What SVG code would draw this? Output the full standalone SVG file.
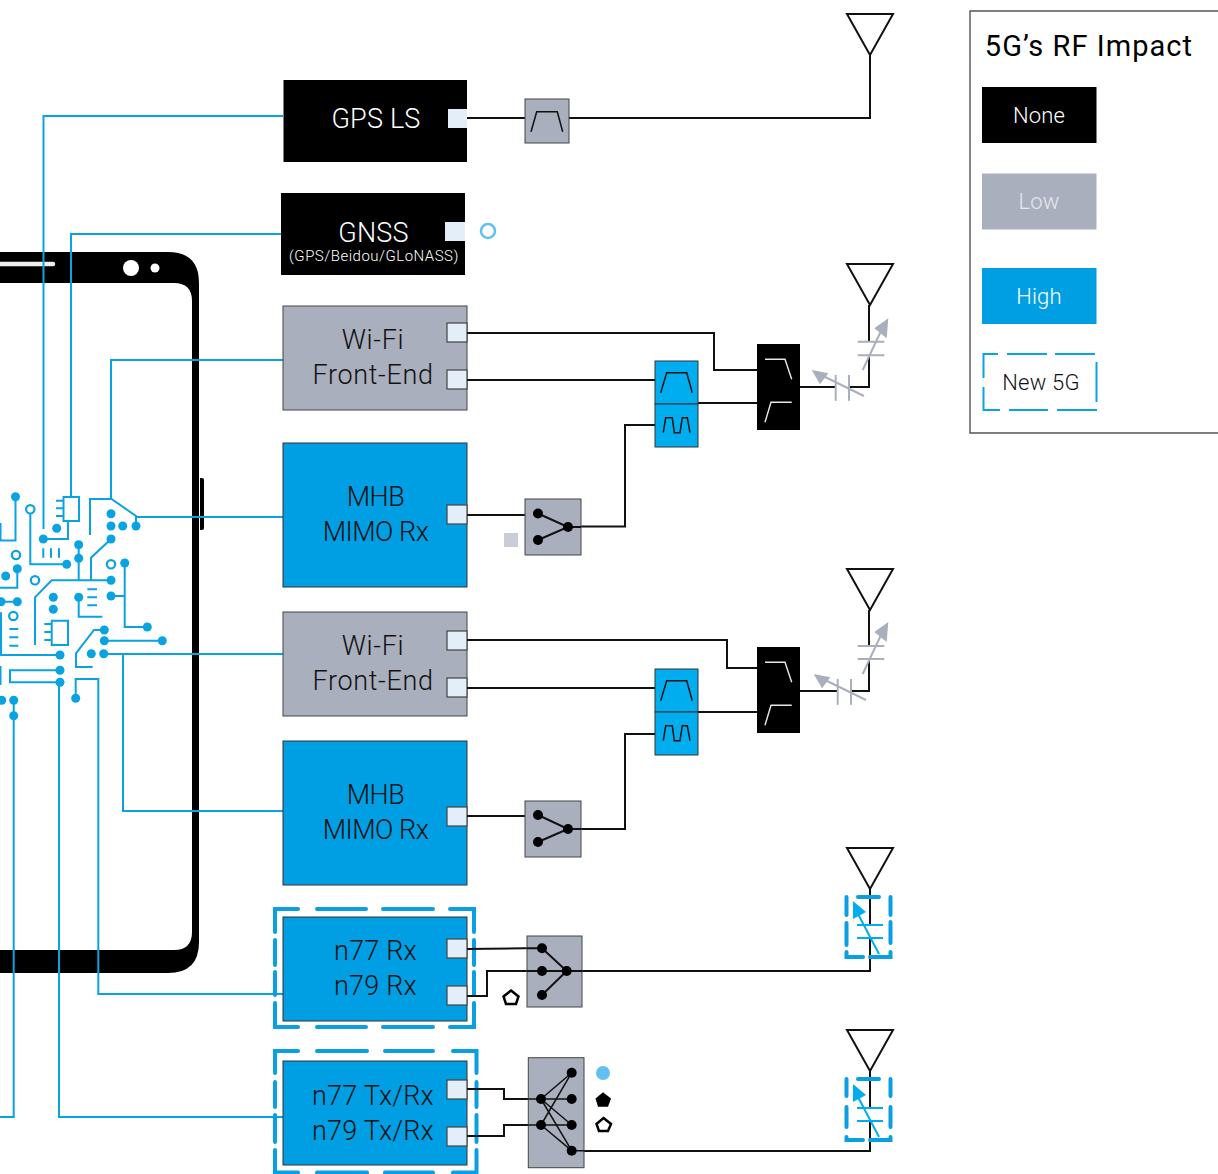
<svg xmlns="http://www.w3.org/2000/svg" width="1218" height="1174" viewBox="0 0 1218 1174">
<style>
text{font-family:Roboto,"Liberation Sans",sans-serif;font-weight:300;text-anchor:middle}
.lbl{font-size:27px;fill:#111}
.a{letter-spacing:-.5px}
.c{letter-spacing:.2px}
.e{letter-spacing:.65px}
.wl{fill:#fff}
.k{fill:none;stroke:#111;stroke-width:2}
.b{fill:none;stroke:#0aa3e2;stroke-width:2}
.d{fill:#0aa3e2}
.r{fill:#fff;stroke:#0aa3e2;stroke-width:2.2}
.dash{fill:none;stroke:#0a9fe3;stroke-width:4;stroke-linecap:round}
.port{fill:#e3eef8;stroke:#444;stroke-width:1.2}
.portb{fill:#e3eef8}
.g{fill:#aaafbe;stroke:#444;stroke-width:1}
.h{fill:#009fe3;stroke:#333;stroke-width:1}
.f{fill:none;stroke:#111;stroke-width:1.5}
.s{fill:none;stroke:#111;stroke-width:2}
.w{fill:none;stroke:#e8e8e8;stroke-width:1.4}
.cg{fill:none;stroke:#aaafbe;stroke-width:2}
.cb{fill:none;stroke:#00aeef;stroke-width:2}
.lg{font-size:22px;letter-spacing:.2px}
</style>
<defs>
<path id="ant" d="M-23 -41H23L0 0Z" fill="none" stroke="#111" stroke-width="2"/>
</defs>
<g id="phone">
<path d="M0 252H168Q199 252 199 283V942Q199 973 168 973H0V950H174Q192 950 192 932V301Q192 283 174 283H0Z"/>
<path d="M0 264H53" stroke="#eee" stroke-width="4.5" stroke-linecap="round"/>
<circle cx="131" cy="268" r="8" fill="#fff"/><circle cx="155" cy="268" r="4.5" fill="#fff"/>
<path d="M200 478h2q2 0 2 2v48q0 2-2 2h-2z"/>
</g>
<g id="connectors">
<g class="b">
<path d="M283 116H43.5V529"/>
<path d="M283 234H71V497"/>
<path d="M283 360H111V499"/>
<path d="M63.5 497H79V521H63.5ZM56 500.7H63.5M56 508.3H63.5M56 516H63.5M68 521V539H43.3"/>
<path d="M90 535V499H111.5L136 516V526M136 517H283"/>
<path d="M283 654H103.7"/>
<path d="M123 654V811H283"/>
<path d="M283 994H98.3V679H75.7V698"/>
<path d="M283 1117H59V682.3"/>
<path d="M0 1117H13.7V700"/>
<path d="M15.5 497V540.5H0.5V523"/>
<path d="M30.3 509V564.3H66.7M43.3 548.3V557.7M51 548.3V557.7M59 548.3V557.7"/>
<path d="M111 539L91 557.7V580.3M78.7 544.7V580.3M111 580.3H51.7L35 597.3V645"/>
<path d="M17.3 568.7V587.7H0M1 601.7H17.3M1 612.3V655H60"/>
<path d="M9.3 629H18.3M9.3 637.3H18.3M9.3 645.7H18.3"/>
<path d="M51.7 620.7H68V645H51.7ZM44.3 624H51.7M44.3 632H51.7M44.3 640H51.7"/>
<path d="M78.7 597.3V616.7H102.3M87.3 589.3H97M87.3 597.3H97M87.3 605.3H97"/>
<path d="M124.7 563V627H147.3M111 596H124.7"/>
<path d="M104.3 630H94L76 653.3V667H92.7M104.3 640.7H162.3"/>
<path d="M60 670.3H10V682.3H60M0.5 666V685"/>
</g>
<g class="d">
<circle cx="15.5" cy="496.7" r="4.5"/><circle cx="56.7" cy="528.3" r="4.5"/><circle cx="43.3" cy="539" r="4.5"/><circle cx="111" cy="513.7" r="4.5"/><circle cx="111" cy="526" r="4.5"/><circle cx="122.7" cy="526" r="4.5"/><circle cx="136" cy="526" r="4.5"/><circle cx="111" cy="539" r="4.5"/>
<circle cx="78.7" cy="544.7" r="4.5"/><circle cx="78.7" cy="558.3" r="4.5"/><circle cx="66.7" cy="564.3" r="4.5"/><circle cx="124.7" cy="563" r="4.5"/><circle cx="111" cy="580.3" r="4.5"/><circle cx="111" cy="596" r="4.5"/><circle cx="147.3" cy="627" r="4.5"/><circle cx="104.3" cy="630" r="4.5"/><circle cx="104.3" cy="640.7" r="4.5"/><circle cx="162.3" cy="640.7" r="4.5"/>
<circle cx="17.3" cy="568.7" r="4.5"/><circle cx="5.7" cy="576" r="4.5"/><circle cx="1" cy="601.7" r="4.5"/><circle cx="17.3" cy="601.7" r="4.5"/>
<circle cx="53.3" cy="597.3" r="4.5"/><circle cx="53.3" cy="609.3" r="4.5"/><circle cx="78.7" cy="597.3" r="4.5"/>
<circle cx="60" cy="655" r="4.5"/><circle cx="60" cy="670.3" r="4.5"/><circle cx="60" cy="682.3" r="4.5"/><circle cx="91.3" cy="653.7" r="4.5"/><circle cx="103.7" cy="653.7" r="4.5"/><circle cx="75.7" cy="698.3" r="4.5"/>
<circle cx="1.7" cy="700.3" r="4.5"/><circle cx="13.7" cy="700.3" r="4.5"/><circle cx="13.7" cy="715.7" r="4.5"/>
</g>
<circle class="r" cx="30.3" cy="509.3" r="4.2"/><circle class="r" cx="16" cy="555" r="4.2"/><circle class="r" cx="35" cy="580.3" r="4.2"/><circle class="r" cx="13.3" cy="616" r="4.2"/><circle class="r" cx="111" cy="564.3" r="4.2"/>
</g>
<g id="gps-ls"><rect x="283.500" y="80" width="183.500" height="82"/><text class="lbl wl c" x="376" y="128">GPS LS</text><rect class="portb" x="448" y="109" width="19" height="19"/></g>
<g id="gnss"><rect x="281" y="193" width="184" height="82"/><text class="lbl wl c" x="373.500" y="242">GNSS</text><text class="wl" x="374" y="261" font-size="15" letter-spacing="0.5">(GPS/Beidou/GLoNASS)</text><rect class="portb" x="445" y="222" width="20" height="19"/></g>
<circle id="gnss-mark" cx="488" cy="231" r="7" fill="none" stroke="#62c0ee" stroke-width="2.5"/>
<g id="wifi1"><rect class="g" x="283" y="306" width="184" height="104"/><text class="lbl e" x="373" y="349">Wi-Fi</text><text class="lbl e" x="373" y="384">Front-End</text><rect class="port" x="447" y="323" width="20" height="19"/><rect class="port" x="447" y="370" width="20" height="19"/></g>
<g id="mhb1"><rect class="h" x="283" y="443" width="184" height="144"/><text class="lbl a" x="375.500" y="506">MHB</text><text class="lbl a" x="375.500" y="541">MIMO Rx</text><rect class="port" x="447" y="505" width="20" height="19"/></g>
<g id="wifi2"><rect class="g" x="283" y="612" width="184" height="104"/><text class="lbl e" x="373" y="655">Wi-Fi</text><text class="lbl e" x="373" y="690">Front-End</text><rect class="port" x="447" y="631" width="20" height="19"/><rect class="port" x="447" y="678" width="20" height="19"/></g>
<g id="mhb2"><rect class="h" x="283" y="741" width="184" height="144"/><text class="lbl a" x="375.500" y="804">MHB</text><text class="lbl a" x="375.500" y="839">MIMO Rx</text><rect class="port" x="447" y="807" width="20" height="19"/></g>
<g id="n77rx"><rect class="h" x="283" y="917" width="184" height="104"/><path class="dash" d="M298 909H275V932M317 909H366M383 909H433M450 909H474V932M275 940V965M474 940V965M275 972V995M474 972V995M275 1003V1027H298M474 1003V1027H450M317 1027H366M383 1027H433"/><text class="lbl c" x="375.500" y="960">n77 Rx</text><text class="lbl c" x="375.500" y="995">n79 Rx</text><rect class="port" x="447" y="939" width="20" height="19"/><rect class="port" x="447" y="986" width="20" height="19"/></g>
<g id="n77tx"><rect class="h" x="283" y="1061" width="184" height="104"/><path class="dash" d="M298 1051H275V1073M317 1051H367M385 1051H433M453 1051H476.500V1073M275 1082V1107M476.500 1082V1107M275 1115V1142M476.500 1115V1142M275 1150V1172.500H298M476.500 1150V1172.500H453M317 1172.500H367M385 1172.500H433"/><text class="lbl c" x="373" y="1105">n77 Tx/Rx</text><text class="lbl c" x="373" y="1140">n79 Tx/Rx</text><rect class="port" x="447" y="1080" width="20" height="19"/><rect class="port" x="447" y="1127" width="20" height="19"/></g>
<g id="wires" class="k">
<path d="M467 118H525M569 118H870V55"/>
<path d="M467 333H714V370H757M467 380H655M698 403H757M800 387H835.500M849 387H869V355.300M869 341.700V305"/>
<path d="M467 515H525M581 526.500H625V425H655"/>
<path d="M467 640H727V668H757M467 688H655M698 712H757M800 691H837.500M851 691H869V659M869 646V610"/>
<path d="M467 816H525M581 829H625V734H655"/>
<path d="M467 949L541 948M467 996H487V971H527M582 971H870V938M870 925V889"/>
<path d="M467 1089H504V1099H540M467 1136H504V1125H540M584 1151H870V1121M870 1108V1071"/>
</g>
<g id="gps-filter"><rect class="g" x="525" y="99" width="44" height="44"/><path class="f" d="M531 131.700L536.700 111.700H557.300L562.700 131.700"/></g>
<g id="switch1"><rect class="g" x="525" y="499" width="56" height="56"/><path class="s" d="M538 513.500L568 527L538 540M568 527H581"/><circle cx="538" cy="513.500" r="5"/><circle cx="538" cy="540" r="5"/><circle cx="568" cy="527" r="5"/></g>
<rect id="mark-square" x="504" y="533" width="14" height="14" fill="#c9cdd8"/>
<g id="filters1"><rect x="655" y="361" width="43" height="43" fill="#00aeef" stroke="#333"/><rect x="655" y="404" width="43" height="43" fill="#00aeef" stroke="#333"/><path class="f" d="M660.700 392.700L666.700 372.700H686.700L692.300 392.700M663.300 432.700L665.700 417.700H672.300L674.300 432.700H680L682.300 417.700H687.300L690 432.700"/></g>
<g id="diplexer1"><rect x="757" y="344" width="43" height="86"/><path class="w" d="M765 359.300H785L791.700 379.300M765 422.300L771 402.300H791.700"/></g>
<g id="ant1"><use href="#ant" x="870" y="305"/><path class="cg" d="M857.700 341.700H884.300M857.700 355.300H884.300M862.700 370L881 331M835.700 375V400.700M849 375V400.700M864 396L823 376"/><path d="M888.300 318.300L874.300 328.300L886.700 338.300ZM811.700 370L828.300 373.300L820 384.300Z" fill="#aaafbe"/></g>
<g id="switch2"><rect class="g" x="525" y="801" width="56" height="56"/><path class="s" d="M538 815L568 829L538 842M568 829H581"/><circle cx="538" cy="815" r="5"/><circle cx="538" cy="842" r="5"/><circle cx="568" cy="829" r="5"/></g>
<g id="filters2"><rect x="655" y="669" width="43" height="43" fill="#00aeef" stroke="#333"/><rect x="655" y="712" width="43" height="43" fill="#00aeef" stroke="#333"/><path class="f" d="M660.700 700.700L666.700 680.700H686.700L692.300 700.700M663.300 740.700L665.700 725.700H672.300L674.300 740.700H680L682.300 725.700H687.300L690 740.700"/></g>
<g id="diplexer2"><rect x="757" y="647" width="43" height="86"/><path class="w" d="M765 662.300H785L791.700 682.300M765 725.300L771 705.300H791.700"/></g>
<g id="ant2"><use href="#ant" x="870" y="610"/><path class="cg" d="M857.700 646H884.300M857.700 659H884.300M862.700 674L881 635M837.700 679V704.700M851 679V704.700M866 700L825 680"/><path d="M888.300 622L874.300 632L886.700 642ZM813.700 674L830.300 677.300L822 688.300Z" fill="#aaafbe"/></g>
<g id="switch3"><rect class="g" x="527" y="936" width="55" height="71"/><path class="s" d="M527 948.300H542M527 971H582M542 948.300L566.700 971L542 995"/><circle cx="542" cy="948.300" r="5"/><circle cx="542" cy="971" r="5"/><circle cx="542" cy="995" r="5"/><circle cx="566.700" cy="971" r="5"/></g>
<path id="mark-pent1" d="M511 990.500L518.500 996.500L516 1004H506L503.500 996.500Z" fill="#fff" stroke="#000" stroke-width="2.500"/>
<g id="ant3"><use href="#ant" x="870" y="889"/><path class="cb" d="M857 925H883M857 938H883M879 954L857 912"/><path d="M853 901L853 919L866 912Z" fill="#00aeef"/><path class="dash" d="M858 897H879M846.500 897V915M846.500 923V945M846.500 952V957H863M870 957H890.500V952M890.500 922V943M890.500 897V915"/></g>
<g id="switch4"><rect class="g" x="528.300" y="1057.700" width="55.700" height="110"/><path class="f" stroke-width="2" d="M528.300 1099H541M528.300 1125H541M541 1099L571.700 1072.700M541 1099H571.700M541 1099L571.700 1125M541 1099L571.700 1150.700M541 1125L571.700 1072.700M541 1125H571.700M541 1125L571.700 1150.700M571.700 1150.700H584"/><circle cx="541" cy="1099" r="5"/><circle cx="541" cy="1125" r="5"/><circle cx="571.700" cy="1072.700" r="5"/><circle cx="571.700" cy="1099" r="5"/><circle cx="571.700" cy="1125" r="5"/><circle cx="571.700" cy="1150.700" r="5"/></g>
<circle id="mark-dot" cx="603" cy="1073" r="7" fill="#62c0ee"/>
<path id="mark-pent2" d="M603 1092.300L611 1098.500L608 1106.700H598L595.500 1098.500Z"/>
<path id="mark-pent3" d="M603.500 1118L611 1124L608 1131H599L596.500 1124Z" fill="#fff" stroke="#000" stroke-width="2.500"/>
<g id="ant4"><use href="#ant" x="870" y="1071"/><path class="cb" d="M857 1108H883M857 1121H883M879 1137L857 1095"/><path d="M853 1084L853 1102L866 1095Z" fill="#00aeef"/><path class="dash" d="M858 1079H879M846.500 1079V1096M846.500 1107V1127M846.500 1137V1140H863M870 1140H890.500V1137M890.500 1107V1127M890.500 1079V1096"/></g>
<g id="ant0"><use href="#ant" x="870" y="55"/></g>
<g id="legend"><path d="M1218 11H970V433H1218" fill="none" stroke="#555" stroke-width="1.400"/>
<text x="1089" y="56" font-size="29" letter-spacing="1.050" style="font-weight:400">5G’s RF Impact</text>
<rect x="982" y="87" width="114.500" height="56"/><text class="wl lg" x="1039" y="123">None</text>
<rect x="982" y="173.500" width="114.500" height="56" fill="#aaafbe"/><text class="lg" x="1039" y="209" fill="#e6e8ee">Low</text>
<rect x="982" y="268" width="114.500" height="56" fill="#009fe3"/><text class="wl lg" x="1039" y="304">High</text>
<path d="M998 354H983.500V378M983.500 387V410H1000M1007 354H1047M1055 354H1095M1096.500 362V402M1009 410H1048M1057 410H1097" fill="none" stroke="#0aa3e2" stroke-width="2"/><text class="lg" x="1041" y="390" fill="#111">New 5G</text></g>
</svg>
